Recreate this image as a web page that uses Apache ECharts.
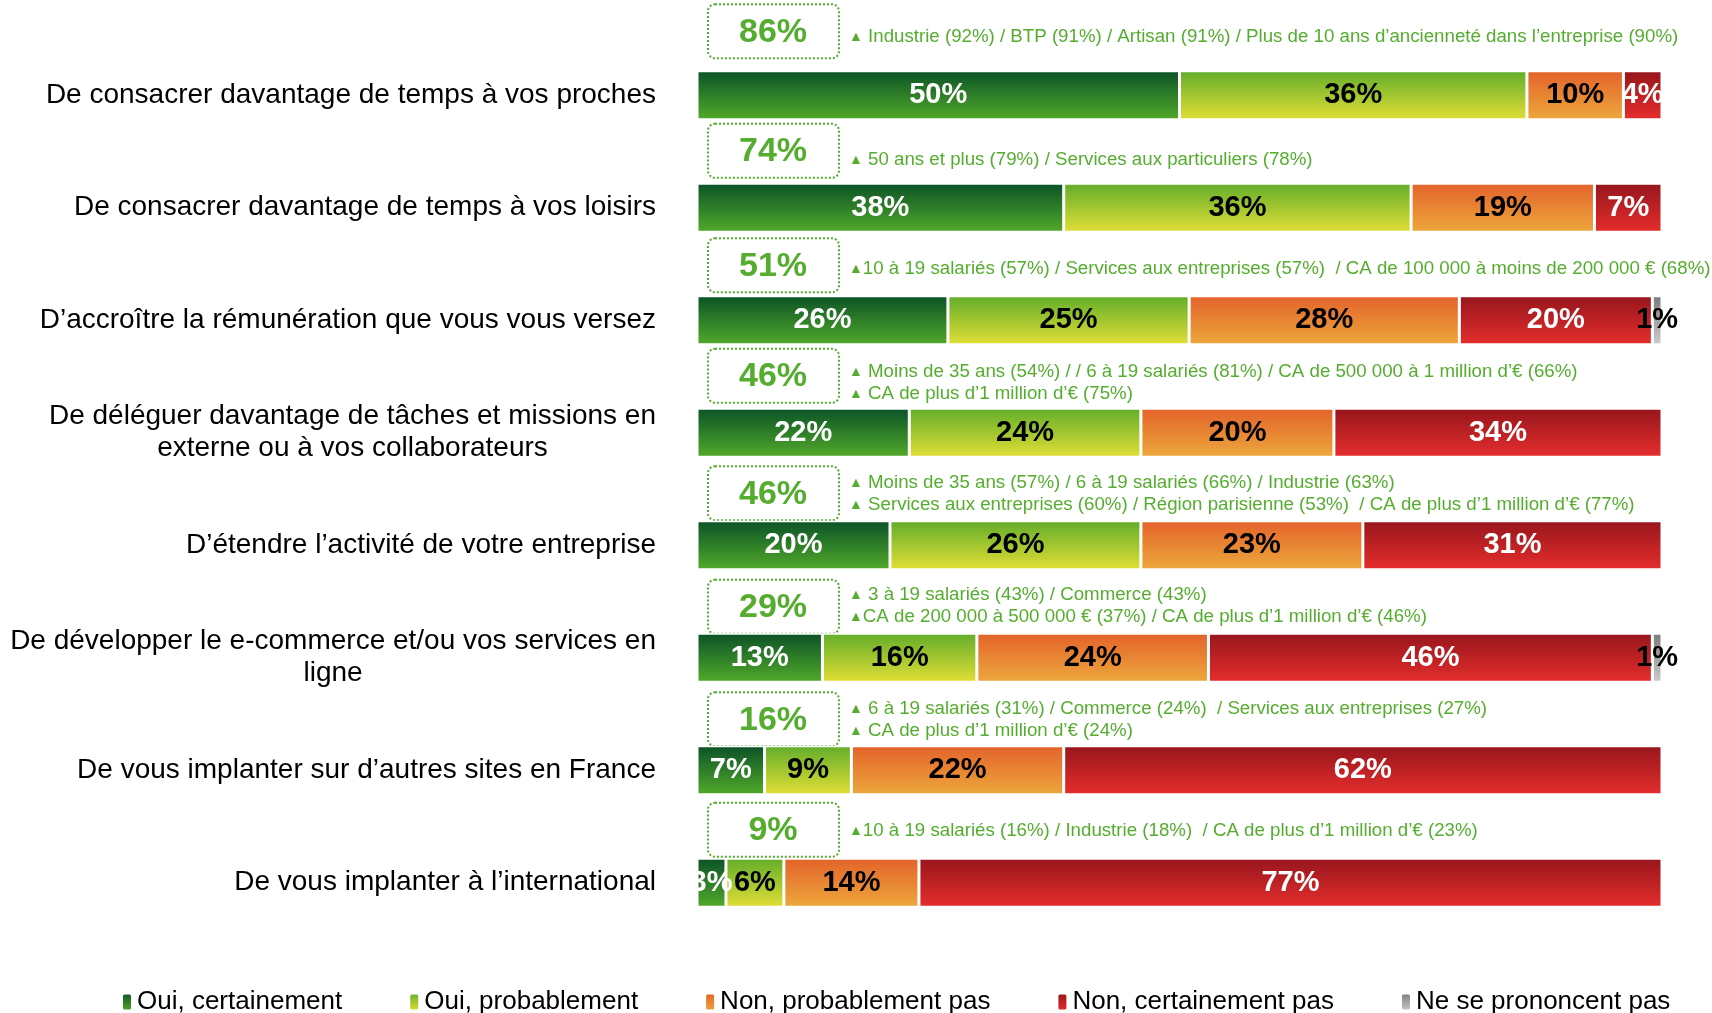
<!DOCTYPE html>
<html>
<head>
<meta charset="utf-8">
<script src="https://cdn.jsdelivr.net/npm/echarts@6/dist/echarts.min.js"></script>
<style>
	html, body { margin: 0; padding: 0; background: #fff; }
	#main { width: 1712px; height: 1013px; }
</style>
</head>
<body>
<div id="main"></div>
<script>
	var FONT = 'Liberation Sans, Arial, sans-serif';

	// questions (lignes du graphique)
	var categories = [
		"De consacrer davantage de temps à vos proches",
		"De consacrer davantage de temps à vos loisirs",
		"D’accroître la rémunération que vous vous versez",
		"De déléguer davantage de tâches et missions en\nexterne ou à vos collaborateurs",
		"D’étendre l’activité de votre entreprise",
		"De développer le e-commerce et/ou vos services en\nligne",
		"De vous implanter sur d’autres sites en France",
		"De vous implanter à l’international"
	];

	var seriesNames = ['Oui, certainement', 'Oui, probablement', 'Non, probablement pas', 'Non, certainement pas', 'Ne se prononcent pas'];

	var ouiCertainement = [50, 38, 26, 22, 20, 13, 7, 3];
	var ouiProbablement = [36, 36, 25, 24, 26, 16, 9, 6];
	var nonProbablement = [10, 19, 28, 20, 23, 24, 22, 14];
	var nonCertainement = [4, 7, 20, 34, 31, 46, 62, 77];
	var nspp = [0, 0, 1, 0, 0, 1, 0, 0];

	// sous-populations sur-représentées
	var notes = [
		["▲ Industrie (92%) / BTP (91%) / Artisan (91%) / Plus de 10 ans d’ancienneté dans l’entreprise (90%)"],
		["▲ 50 ans et plus (79%) / Services aux particuliers (78%)"],
		["▲10 à 19 salariés (57%) / Services aux entreprises (57%)  / CA de 100 000 à moins de 200 000 € (68%)"],
		["▲ Moins de 35 ans (54%) / / 6 à 19 salariés (81%) / CA de 500 000 à 1 million d’€ (66%)", "▲ CA de plus d’1 million d’€ (75%)"],
		["▲ Moins de 35 ans (57%) / 6 à 19 salariés (66%) / Industrie (63%)", "▲ Services aux entreprises (60%) / Région parisienne (53%)  / CA de plus d’1 million d’€ (77%)"],
		["▲ 3 à 19 salariés (43%) / Commerce (43%)", "▲CA de 200 000 à 500 000 € (37%) / CA de plus d’1 million d’€ (46%)"],
		["▲ 6 à 19 salariés (31%) / Commerce (24%)  / Services aux entreprises (27%)", "▲ CA de plus d’1 million d’€ (24%)"],
		["▲10 à 19 salariés (16%) / Industrie (18%)  / CA de plus d’1 million d’€ (23%)"]
	];

	var allData = [ouiCertainement, ouiProbablement, nonProbablement, nonCertainement, nspp];

	var gradients = [
		['#0b5227', '#52aa2a'],
		['#62ad2a', '#e2df36'],
		['#e3622b', '#eda83c'],
		['#96161c', '#e62d2d'],
		['#7a7a7a', '#cccccc']
	];
	var labelColors = ['#fff', '#000', '#000', '#fff', '#000'];

	var GREEN = '#55ad2f';

	var chart = echarts.init(document.getElementById('main'));

	var series = [];
	for (var s = 0; s < seriesNames.length; s++) {
		series.push({
			name: seriesNames[s],
			type: 'bar',
			stack: 'total',
			barWidth: 49,
			data: allData[s],
			itemStyle: {
				color: new echarts.graphic.LinearGradient(0, 0, 0, 1, [
					{ offset: 0, color: gradients[s][0] },
					{ offset: 1, color: gradients[s][1] }
				]),
				borderColor: '#fff',
				borderWidth: 1.5
			},
			label: {
				show: true,
				position: 'inside',
				color: labelColors[s],
				fontFamily: FONT,
				fontWeight: 'bold',
				fontSize: 29,
				formatter: function(p) {
					return p.value > 0 ? p.value + '%' : '';
				}
			}
		});
	}

	var option = {
		animation: false,
		backgroundColor: '#fff',
		grid: {
			left: 697,
			right: 50,
			top: 39,
			bottom: 74
		},
		legend: {
			data: seriesNames,
			left: 116,
			top: 984,
			itemWidth: 10,
			itemHeight: 17,
			itemGap: 66,
			textStyle: {
				fontFamily: FONT,
				fontSize: 26,
				color: '#000'
			}
		},
		xAxis: {
			type: 'value',
			min: 0,
			max: 100,
			show: false
		},
		yAxis: {
			type: 'category',
			inverse: true,
			data: categories,
			axisLine: { show: false },
			axisTick: { show: false },
			axisLabel: {
				margin: 41,
				fontFamily: FONT,
				fontSize: 28,
				color: '#000',
				align: 'right',
				formatter: function(v) {
					return v.split('\n').map(function(l) { return '{c|' + l + '}'; }).join('\n');
				},
				rich: {
					c: {
						align: 'center',
						fontFamily: FONT,
						fontSize: 28,
						lineHeight: 32,
						color: '#000'
					}
				}
			}
		},
		series: series
	};

	chart.setOption(option);

	// encadrés "total oui" + notes au-dessus de chaque barre
	var boxShift = [-64, -57, -55, -57, -52, -51, -51, -53];
	var noteShift = [-58, -48, -51, -50, -51, -52, -50, -52];
	var graphics = [];
	for (var i = 0; i < categories.length; i++) {
		var yc = chart.convertToPixel({ yAxisIndex: 0 }, i);
		var x0 = chart.convertToPixel({ xAxisIndex: 0 }, 0);
		var total = ouiCertainement[i] + ouiProbablement[i];
		var by = yc + boxShift[i];
		graphics.push({
			type: 'rect',
			shape: { x: x0 + 11, y: by - 27, width: 131, height: 54, r: 7 },
			style: { fill: '#fff', stroke: GREEN, lineWidth: 2, lineDash: [2, 2] }
		});
		graphics.push({
			type: 'text',
			x: x0 + 76,
			y: by + 1,
			style: {
				text: total + '%',
				fill: GREEN,
				font: 'bold 34px ' + FONT,
				align: 'center',
				verticalAlign: 'middle'
			}
		});
		graphics.push({
			type: 'text',
			x: x0 + 152,
			y: yc + noteShift[i],
			style: {
				text: notes[i].map(function(l) { return l.replace('▲', '{t|▲}'); }).join('\n'),
				fill: GREEN,
				font: '18.7px ' + FONT,
				lineHeight: 22,
				align: 'left',
				verticalAlign: 'middle',
				rich: {
					t: { fontSize: 14, fill: GREEN, fontFamily: FONT, lineHeight: 22 },
				}
			}
		});
	}
	chart.setOption({ graphic: graphics });
</script>
</body>
</html>
